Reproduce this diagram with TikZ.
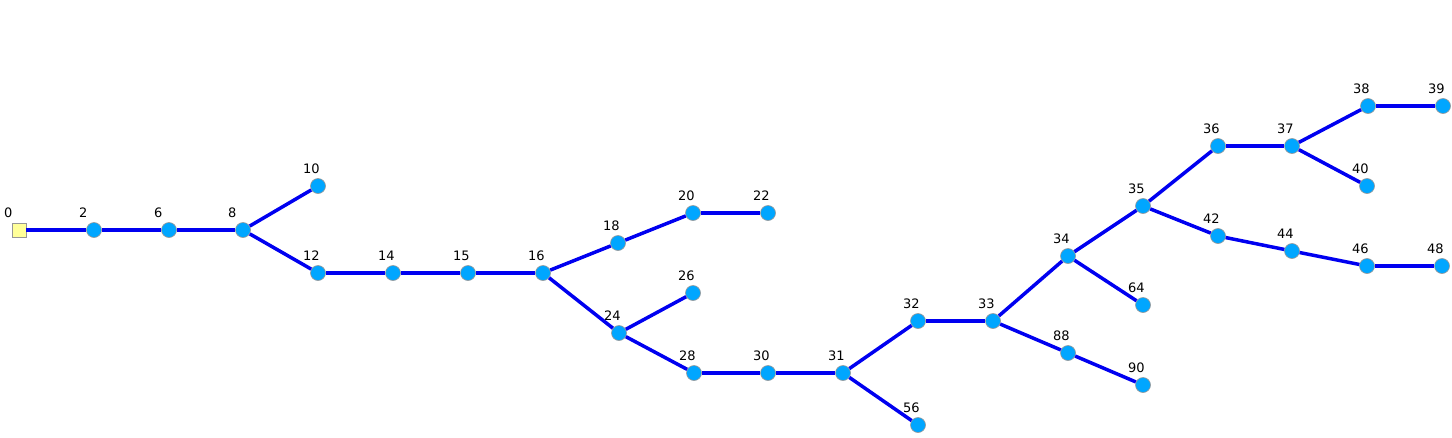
\documentclass[tikz,border=0pt]{standalone}
\usepackage{fontspec}
\setmainfont{DejaVu Sans}
\definecolor{edgeBlue}{RGB}{0,0,240}
\definecolor{nodeBlue}{RGB}{0,166,255}
\definecolor{rootYellow}{RGB}{255,255,153}
\definecolor{rimGray}{RGB}{150,150,150}

\begin{document}
\begin{tikzpicture}
[x=1pt,y=-1pt,
  nodeDecorate/.style={shape=circle,inner sep=0pt,minimum size=15pt,
    fill=nodeBlue,draw=rimGray,line width=0.6pt},%
  rootDecorate/.style={shape=rectangle,inner sep=0pt,minimum size=14pt,
    fill=rootYellow,draw=rimGray,line width=0.8pt},%
  labelDecorate/.style={anchor=base west,inner sep=0pt,font=\fontsize{13}{15}\selectfont},%
  lineDecorate/.style={-,line width=3.5pt,draw=edgeBlue}]
\useasboundingbox (0,0) rectangle (1452,437);
%% root
\node (n0) at (19,230) [rootDecorate] {};
\node (l0) at ([shift={(-15,-13)}]n0.center) [labelDecorate] {0};
%% nodes or vertices
\foreach \nodename/\x/\y in {
  2/94/230, 6/169/230, 8/243/230, 10/318/186, 12/318/273, 14/393/273,
  15/468/273, 16/543/273, 18/618/243, 20/693/213, 22/768/213,
  24/619/333, 26/693/293, 28/694/373, 30/768/373, 31/843/373,
  32/918/321, 33/993/321, 56/918/425, 34/1068/256, 88/1068/353,
  90/1143/385, 64/1143/305, 35/1143/206, 36/1218/146, 37/1292/146,
  38/1368/106, 39/1443/106, 40/1367/186, 42/1218/236, 44/1292/251,
  46/1367/266, 48/1442/266}
{
  \node (n\nodename) at (\x,\y) [nodeDecorate] {};
  \node (l\nodename) at ([shift={(-15,-13)}]n\nodename.center) [labelDecorate] {\nodename};
}
%% edges or lines
\path
\foreach \startnode/\endnode in {
  0/2, 2/6, 6/8, 8/10, 8/12, 12/14, 14/15, 15/16, 16/18, 18/20, 20/22,
  16/24, 24/26, 24/28, 28/30, 30/31, 31/32, 31/56, 32/33, 33/34, 33/88,
  88/90, 34/64, 34/35, 35/36, 36/37, 37/38, 38/39, 37/40, 35/42,
  42/44, 44/46, 46/48}
{
  (n\startnode) edge[lineDecorate] (n\endnode)
};
\end{tikzpicture}
\end{document}
